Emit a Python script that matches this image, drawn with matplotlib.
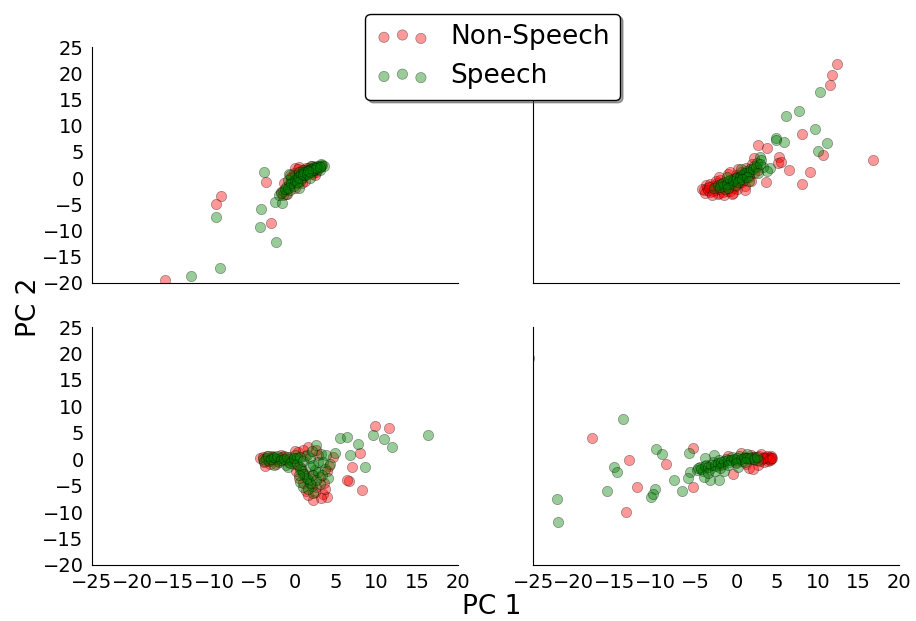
import numpy as np
import matplotlib
matplotlib.use('Agg')
import matplotlib.pyplot as plt

# --- data ---
# top-left panel
tl_ns_x = [-16.0, -9.1, -9.7, -3.6, -3.0,
           -1.8, -1.2, -0.8, -0.3, 0.2, 0.6, 1.0, 1.4, 1.9, 2.3, 2.7, 3.1, 0.5, -0.5, 1.2,
           2.0, -1.0, 0.0, 2.6, 1.6, 0.9, -0.2, 0.0, 0.5,
           0.3, -0.6, 1.3, 2.0, -1.4, 0.8, 2.4, -1.5]
tl_ns_y = [-19.4, -3.4, -4.9, -0.7, -8.6,
           -2.6, -2.3, -1.2, -0.9, -0.2, 0.5, 0.3, 1.1, 1.4, 1.9, 2.0, 2.4, 1.2, 0.3, -0.6,
           0.8, -3.1, -1.8, 1.2, 1.9, 1.5, 0.9, 1.9, 2.2,
           1.7, 0.6, 2.0, 2.4, -1.0, -1.0, 0.6, -3.2]
tl_sp_x = [-12.8, -9.3, -9.8, -3.85, -4.2, -4.3, -2.4, -2.5, -1.6,
           -2.0, -1.5, -1.1, -0.7, -0.3, 0.1, 0.5, 0.9, 1.3, 1.7, 2.1, 2.5, 2.9, 3.3, 0.3,
           0.8, 1.2, 1.6, 2.0, 2.4, 2.8, -0.5, 0.0, 0.4, 1.0, -1.2, -0.6, 1.9, 3.0, -0.9,
           -1.7, -1.3, -0.9, -0.5, -0.1, 0.3, 0.7, 1.1, 1.5, 1.9, 2.3, 2.7, 3.1, 3.5, 0.6,
           1.0, 1.4, 1.8, 2.2, 2.6, 3.0, -0.2, 0.2, 1.6, -0.8, 1.8, 0.5]
tl_sp_y = [-18.7, -17.1, -7.4, 1.2, -5.9, -9.3, -12.2, -4.6, -4.8,
           -3.3, -2.4, -1.7, -1.3, -0.6, -0.1, 0.4, 0.9, 1.3, 1.6, 1.9, 2.1, 2.3, 2.5, -0.9,
           0.0, 0.5, 0.9, 1.2, 1.5, 1.8, 0.1, 0.6, 1.1, 1.6, -3.0, -2.2, 2.3, 1.6, -0.4,
           -2.9, -2.0, -1.9, -1.0, -0.4, 0.2, 0.7, 1.1, 1.5, 1.8, 2.2, 2.4, 2.6, 2.4, -0.5,
           0.6, 0.7, 1.1, 1.6, 1.9, 2.1, -1.5, -0.7, 1.3, 0.8, 0.0, -1.8]

# top-right panel
tr_ns_x = [12.4, 11.8, 11.45, 8.0, 10.7, 6.5, 9.1, 8.0, 16.8, 2.6, 3.8, 5.2, 5.05, 3.66, 2.2, 5.5,
           -4.0, -3.6, -3.3, -3.0, -2.7, -2.4, -2.1, -1.8, -1.5, -1.2, -0.9, -0.6, -0.3, 0.0,
           0.3, 0.6, 0.9, 1.2, 1.5, 1.9, 2.2, -3.8, -2.0, 0.2, -0.4, 1.0, 2.6, -1.0,
           -4.2, -3.9, -3.5, -3.2, -2.9, -2.6, -2.3, -2.0, -1.7, -1.4, -1.1, -0.8, -0.5, -0.2,
           0.1, 0.4, 0.7, -3.4, -2.5,
           -3.0, -1.5, -0.5, 1.0, -2.2, -0.8, 1.8]
tr_ns_y = [21.8, 19.7, 17.7, 8.4, 4.4, 1.55, 1.2, -1.1, 3.5, 6.4, 5.8, 4.1, 2.8, -0.7, 3.8, 3.0,
           -2.3, -1.8, -2.6, -1.5, -2.2, -1.0, -2.8, -1.6, -0.7, -2.4, -1.2, -0.2, -1.9, 0.5,
           -1.0, 1.2, -0.3, 1.9, 0.2, 2.6, 0.9, -1.3, -0.3, 1.8, -2.9, -1.5, 1.5, 0.8,
           -2.0, -2.8, -2.2, -1.2, -2.5, -1.7, -3.0, -2.0, -2.6, -1.3, -1.8, -2.5, -0.9, -1.5,
           -2.0, 0.2, -0.7, -1.6, -0.5,
           -3.2, -3.3, -3.0, -2.2, 0.2, 1.2, -0.6]
tr_sp_x = [10.3, 7.7, 6.1, 9.7, 11.1, 10.0, 4.8, 5.8, 2.9, 4.1, 4.9,
           -2.8, -2.3, -1.9, -1.5, -1.1, -0.7, -0.3, 0.1, 0.5, 0.9, 1.3, 1.7, 2.1, 2.5, 3.0,
           -0.2, 0.4, 1.0, 1.6, 3.3, 3.7, -1.4,
           -2.0, -1.6, -1.2, -0.8, -0.4, 0.0, 0.4, 0.8, 1.2, 1.6, 2.0, 2.4, 0.2, 0.7, 1.3,
           -1.0, 2.9, -1.2, 0.6, 1.5, 2.7]
tr_sp_y = [16.5, 12.8, 11.9, 9.4, 6.6, 5.2, 7.6, 6.9, 4.1, 1.9, 7.2,
           -1.8, -1.4, -1.1, -1.5, -0.6, -0.9, -0.1, 0.2, 0.6, 0.9, 1.4, 1.8, 2.3, 2.9, 3.4,
           -1.3, -0.4, 0.3, 0.6, 2.2, 1.3, -2.1,
           -1.6, -0.9, -1.2, -0.4, -0.6, 0.0, 0.3, 0.5, 1.0, 1.2, 1.7, 2.2, -0.8, -0.1, 0.2,
           -1.9, 2.6, 0.3, 1.8, -0.6, 1.0]

# bottom-left panel
bl_ns_x = [9.76, 11.55, 7.0, 6.56, 8.2, 8.0, 6.3,
           -4.3, -3.9, -3.5, -3.1, -2.6, -2.2, -1.7, -1.2, -0.7, -0.2, 0.3, 0.7, 1.1, 1.5,
           1.9, 2.2, 2.6, 3.0, 3.4, 3.86, 4.2, 4.6, 1.3, 0.5, 2.8, -3.7, 3.5, 1.0,
           -4.0, -3.3, -2.9, -2.4, -1.9, -1.4, -0.9, 0.1, 0.9, 1.6, 2.4, 3.2, 3.7, 2.0,
           1.2, 0.0, 3.9, 2.5]
bl_ns_y = [6.3, 6.0, -1.5, -4.1, -5.8, 1.2, -3.9,
           0.2, -0.5, 0.6, -0.9, 0.3, -0.4, 0.9, -0.2, 0.5, -0.9, 1.3, -1.6, -2.8, 2.4,
           -4.6, -7.7, -5.3, -3.3, -6.6, -7.1, -1.2, 0.4, -6.0, -3.6, 0.9, -1.2, -4.4, 1.8,
           0.5, -0.1, 0.7, -0.8, 0.2, 0.6, -0.6, -2.2, -4.4, -6.8, -6.2, -7.3, -5.6, -2.9,
           0.6, 1.6, -2.3, 1.8]
bl_sp_x = [16.35, 9.6, 10.86, 11.85, 5.5, 6.3, 7.7, 8.56, 4.9, 6.7, 2.6,
           -4.0, -3.6, -3.2, -2.8, -2.4, -2.0, -1.6, -1.2, -0.8, -0.4, 0.0, 0.4, 0.8, 1.2,
           1.6, 2.0, 1.0, 0.6, 2.4, 2.8, 3.2, 3.6, 4.0, 2.2, 0.2, 1.4, -0.9, -2.6, 1.8, 3.0,
           -3.8, -3.4, -3.0, -2.6, -2.2, -1.8, -1.4, -1.0, -0.6, -0.2, 0.2, 0.6, 0.6, 1.0,
           1.4, 1.8, 2.2, 2.6, 1.6, 2.8, 3.4, 3.8, 1.0, 1.8, 2.2, 0.4, 3.3, 2.0, 4.3]
bl_sp_y = [4.5, 4.6, 3.9, 2.4, 4.0, 4.3, 2.9, -1.5, 1.1, 0.8, 2.7,
           0.0, 0.3, -0.3, 0.5, 0.0, -0.6, 0.4, -1.0, 0.1, -0.4, 0.8, -1.3, -2.2, -3.1,
           -4.0, -5.0, -5.2, -4.3, -2.0, -0.6, 1.0, -1.8, -3.5, -6.4, 0.3, 0.9, -1.5, -1.0,
           -1.3, -4.6,
           -0.4, 0.7, 0.1, 0.4, 0.6, -0.2, 0.1, 0.5, -0.7, 0.3, -0.8, 0.5, -1.8, -2.7,
           -3.6, -4.5, -3.0, -4.0, -5.6, -2.5, -0.5, 0.9, -0.4, 0.3, -1.0, -3.0, -3.0, 1.6, -0.8]

# bottom-right panel
br_ns_x = [-17.8, -13.2, -12.25, -13.6, -8.7, -5.3, -5.3,
           -1.0, -0.4, 0.5, 1.2, 1.8, 2.3, 2.8, 3.2, 3.5, 3.8, 4.1, 4.2, 3.9, 3.4, 2.6, 1.6,
           0.0, -2.0, 4.3, 3.0, 2.0, 1.0,
           3.6, 4.0, 4.3, 3.7, 4.1, 3.3, 2.9, 2.2, 4.4]
br_ns_y = [4.1, -0.15, -5.2, -9.9, -0.8, 2.1, -5.2,
           0.7, -2.7, 1.1, -0.8, 0.8, -0.2, 0.6, 0.0, 0.5, 0.2, 0.4, 0.0, -0.3, -0.6, -1.0, -1.6,
           -0.6, -1.1, 0.6, 1.0, -1.9, 0.2,
           0.3, 0.1, 0.3, 0.6, -0.1, 0.3, -0.3, 0.5, 0.2]
br_sp_x = [-25.45, -13.9, -15.1, -14.7, -15.9, -22.1, -22.0, -9.9, -9.1, -10.0, -10.45, -10.3,
           -7.65, -6.7, -5.8, -5.7, -5.9,
           -4.9, -4.5, -4.1, -3.7, -3.3, -2.9, -2.8, -2.5, -2.2, -2.1, -1.7, -1.3, -0.9, -0.5,
           -0.1, 0.3, 0.7, 1.1, 1.5, 1.9, 2.3, 2.7, -3.2, -1.5, 0.2, -4.0, 1.3, -3.9,
           -4.7, -4.3, -3.9, -3.5, -3.1, -2.7, -2.3, -1.9, -1.5, -1.1, -0.7, -0.3, 0.1, 0.5,
           0.9, 1.3, 1.7, 2.1, 2.5, -2.0, -1.0, 0.0, 1.0, -3.5, -2.6]
br_sp_y = [19.2, 7.6, -1.4, -2.5, -6.0, -7.6, -11.9, 1.9, 1.0, -5.6, -7.1, -6.6,
           -3.9, -6.0, 1.1, -2.4, -3.6,
           -2.0, -1.4, -2.3, -1.0, -1.8, -0.6, 0.8, -1.3, -3.9, -0.2, -0.9, 0.1, -0.5, 0.4,
           -0.1, 0.6, -0.3, 0.5, 0.0, 0.4, 0.2, -0.1, -3.9, -2.2, -1.4, -3.3, 1.0, 0.2,
           -1.7, -1.9, -1.3, -1.5, -1.1, -1.0, -0.7, -0.5, -0.4, -0.2, -0.1, 0.1, 0.2, 0.1,
           0.3, 0.3, 0.2, 0.1, 0.4, -1.6, -1.1, -0.7, -0.6, -2.6, -2.3]

panels = [
    (tl_ns_x, tl_ns_y, tl_sp_x, tl_sp_y),
    (tr_ns_x, tr_ns_y, tr_sp_x, tr_sp_y),
    (bl_ns_x, bl_ns_y, bl_sp_x, bl_sp_y),
    (br_ns_x, br_ns_y, br_sp_x, br_sp_y),
]

LABELS = ['Non-Speech', 'Speech']
XTICKS = np.arange(-25, 25, 5)
YTICKS = np.arange(-20, 30, 5)

TICKFONT = 14
LABFONT = 19

fig = plt.figure(figsize=(9.16, 6.21), dpi=100)

# axes positions in figure fractions [left, bottom, width, height]
pos = [[0.1004, 0.5443, 0.3996, 0.380],
       [0.5820, 0.5443, 0.3996, 0.380],
       [0.1004, 0.0902, 0.3996, 0.383],
       [0.5820, 0.0902, 0.3996, 0.383]]

for i, (nx, ny, sx, sy) in enumerate(panels):
    ax = fig.add_axes(pos[i])
    h1 = ax.scatter(nx, ny, s=55, c='r', alpha=0.4, edgecolors='k', linewidths=0.5,
                    label=LABELS[0])
    h2 = ax.scatter(sx, sy, s=55, c='g', alpha=0.4, edgecolors='k', linewidths=0.5,
                    label=LABELS[1])
    ax.set_xlim(-25, 20)
    ax.set_ylim(-20, 25)
    ax.set_xticks(XTICKS)
    ax.set_yticks(YTICKS)
    ax.spines['top'].set_visible(False)
    ax.spines['right'].set_visible(False)
    ax.tick_params(length=0, labelsize=TICKFONT, pad=6)
    if i < 2:
        ax.set_xticklabels([])
    if i % 2 == 1:
        ax.set_yticklabels([])

fig.text(0.537, 0.002, 'PC 1', fontsize=LABFONT, ha='center', va='bottom')
fig.text(0.018, 0.505, 'PC 2', fontsize=LABFONT, ha='left', va='center', rotation=90)

fig.legend([h1, h2], LABELS, loc='upper center', bbox_to_anchor=(0.538, 0.978),
           borderaxespad=0, scatterpoints=3, fontsize=LABFONT, shadow=True,
           fancybox=True, framealpha=1, edgecolor='k')

plt.savefig('out.png', dpi=100)
